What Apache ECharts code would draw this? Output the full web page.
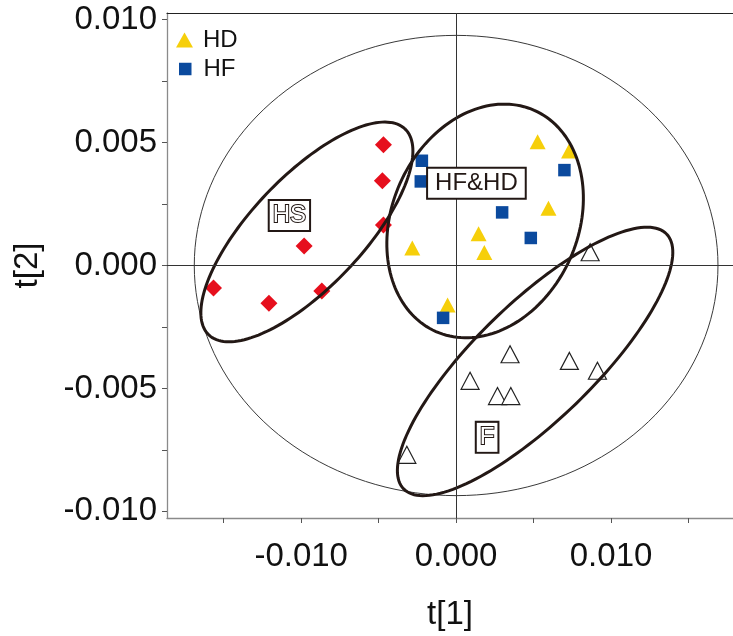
<!DOCTYPE html>
<html>
<head>
<meta charset="utf-8">
<script src="https://cdn.jsdelivr.net/npm/echarts@6/dist/echarts.min.js"></script>
<style>
  html, body { margin: 0; padding: 0; background: #ffffff; }
  #chart { width: 733px; height: 636px; }
</style>
</head>
<body>
<div id="chart"></div>
<script>
// ---------------- data ----------------
const hsX = [-0.00469, -0.00476, -0.00469, -0.00981, -0.01566, -0.01208, -0.00867];
const hsY = [0.00491, 0.00345, 0.00165, 0.00079, -0.00092, -0.00154, -0.00104];

const hdX = [0.00526, 0.00729, 0.00596, 0.00145, -0.00283, 0.00182, -0.00055];
const hdY = [0.00503, 0.00466, 0.00233, 0.00129, 0.00071, 0.00053, -0.00161];

const hfX = [-0.00221, -0.00228, 0.00699, 0.00297, 0.00482, -0.00084];
const hfY = [0.00426, 0.00342, 0.00388, 0.00216, 0.00112, -0.00213];

const fX = [0.00865, 0.00348, 0.00731, 0.00912, 0.00090, 0.00267, 0.00353, -0.00318];
const fY = [0.00054, -0.00361, -0.00388, -0.00428, -0.00469, -0.00531, -0.00531, -0.00770];

// group ellipses: centre and two conjugate semi-diameters, in data units
const groupNames = ['HS', 'HF&HD', 'F'];
const groupCenters = [[-0.009632, 0.001366], [0.001871, 0.001812], [0.005097, -0.003903]];
const groupAxisU = [[0.006329, 0.004191], [0.003173, 0.004499], [0.008484, 0.005184]];
const groupAxisV = [[-0.002602, 0.001551], [-0.005492, 0.001529], [-0.002649, 0.001712]];
const groupLabelPos = [[-0.01076, 0.00203], [0.00131, 0.00335], [0.00200, -0.00699]];

// Hotelling T2 ellipse
const t2Center = [0, 0];
const t2AxisU = [0.0169, 0];
const t2AxisV = [0, 0.00936];

// axes
const xRange = [-0.01866, 0.01787];
const yRange = [-0.01027, 0.01027];
const xTickValues = [-0.015, -0.010, -0.005, 0, 0.005, 0.010, 0.015];
const xLabelValues = [-0.010, 0, 0.010];
const yTickValues = [-0.010, -0.0075, -0.005, -0.0025, 0, 0.0025, 0.005, 0.0075, 0.010];
const yLabelValues = [-0.010, -0.005, 0, 0.005, 0.010];

// ---------------- chart ----------------
const FONT = "'Liberation Sans', Arial, sans-serif";
const STEPS = 160;
const zip = (xs, ys) => xs.map((x, i) => [x, ys[i]]);

function ellipseItem(c, u, v) { return [c[0], c[1], u[0], u[1], v[0], v[1]]; }

function renderEllipse(lineWidth, color) {
  return function (params, api) {
    const cx = api.value(0), cy = api.value(1);
    const ux = api.value(2), uy = api.value(3), vx = api.value(4), vy = api.value(5);
    const pts = [];
    for (let i = 0; i <= STEPS; i++) {
      const t = 2 * Math.PI * i / STEPS;
      pts.push(api.coord([cx + ux * Math.cos(t) + vx * Math.sin(t),
                          cy + uy * Math.cos(t) + vy * Math.sin(t)]));
    }
    return { type: 'polyline', shape: { points: pts }, style: { stroke: color, lineWidth: lineWidth, fill: null } };
  };
}

const chart = echarts.init(document.getElementById('chart'), null, { renderer: 'canvas' });

const fmt = v => v.toFixed(3);

const option = {
  backgroundColor: '#ffffff',
  animation: false,
  grid: { left: 167, right: 0, top: 13, bottom: 116 },
  legend: [
    {
      data: ['HD'], icon: 'triangle', orient: 'vertical', left: 176, top: 28, padding: 0,
      itemWidth: 17, itemHeight: 15, selectedMode: false,
      textStyle: { fontFamily: FONT, fontSize: 24, color: '#111', padding: [0, 0, 0, 5] }
    },
    {
      data: ['HF'], icon: 'rect', orient: 'vertical', left: 179, top: 57, padding: 0,
      itemWidth: 12.5, itemHeight: 12.5, selectedMode: false,
      textStyle: { fontFamily: FONT, fontSize: 24, color: '#111', padding: [0, 0, 0, 7] }
    }
  ],
  xAxis: [
    {
      type: 'value', min: xRange[0], max: xRange[1],
      name: 't[1]', nameLocation: 'middle', nameGap: 80,
      nameTextStyle: { fontFamily: FONT, fontSize: 33, color: '#111' },
      axisLine: { show: true, onZero: false, lineStyle: { color: '#8a8a8a', width: 1.3 } },
      axisTick: { show: true, inside: false, length: 5, customValues: xTickValues, lineStyle: { color: '#555' } },
      axisLabel: { customValues: xLabelValues, formatter: fmt, margin: 22, fontFamily: FONT, fontSize: 33, color: '#111' },
      splitLine: { show: false }
    },
    {
      type: 'value', position: 'top', min: xRange[0], max: xRange[1],
      axisLine: { show: true, onZero: false, lineStyle: { color: '#222', width: 1.2 } },
      axisTick: { show: false }, axisLabel: { show: false }, splitLine: { show: false }
    }
  ],
  yAxis: {
    type: 'value', min: yRange[0], max: yRange[1],
    name: 't[2]', nameLocation: 'middle', nameGap: 123,
    nameTextStyle: { fontFamily: FONT, fontSize: 33, color: '#111' },
    axisLine: { show: true, onZero: false, lineStyle: { color: '#8a8a8a', width: 1.3 } },
    axisTick: { show: true, inside: false, length: 5, customValues: yTickValues, lineStyle: { color: '#555' } },
    axisLabel: { customValues: yLabelValues, formatter: fmt, margin: 10, padding: [6, 0, 0, 0], fontFamily: FONT, fontSize: 33, color: '#111' },
    splitLine: { show: false }
  },
  series: [
    {
      name: 'T2', type: 'custom', silent: true, z: 1,
      renderItem: renderEllipse(1, '#3a3a3a'),
      data: [ellipseItem(t2Center, t2AxisU, t2AxisV)],
      markLine: {
        silent: true, symbol: ['none', 'none'], label: { show: false },
        lineStyle: { color: '#333', width: 1, type: 'solid' },
        data: [{ xAxis: 0 }, { yAxis: 0 }]
      }
    },
    {
      name: 'HS', type: 'scatter', symbol: 'diamond', symbolSize: 17, z: 3,
      itemStyle: { color: '#e60f1d', opacity: 1 },
      data: zip(hsX, hsY)
    },
    {
      name: 'HD', type: 'scatter', symbol: 'triangle', symbolSize: [16, 15], z: 3,
      itemStyle: { color: '#f6cf0a', opacity: 1 },
      data: zip(hdX, hdY)
    },
    {
      name: 'HF', type: 'scatter', symbol: 'rect', symbolSize: 12.5, z: 3,
      itemStyle: { color: '#0b4a9e', opacity: 1 },
      data: zip(hfX, hfY)
    },
    {
      name: 'F', type: 'scatter', symbol: 'triangle', symbolSize: [18, 17], z: 3,
      itemStyle: { color: '#ffffff', borderColor: '#222', borderWidth: 1.2, opacity: 1 },
      data: zip(fX, fY)
    },
    {
      name: 'groups', type: 'custom', silent: true, z: 4,
      renderItem: renderEllipse(3, '#231815'),
      data: groupNames.map((n, i) => ellipseItem(groupCenters[i], groupAxisU[i], groupAxisV[i]))
    },
    {
      name: 'groupLabels', type: 'scatter', symbolSize: 1, z: 5, silent: true,
      itemStyle: { color: 'rgba(0,0,0,0)', opacity: 1 },
      data: groupNames.map((n, i) => ({
        name: n, value: groupLabelPos[i],
        label: n === 'HF&HD'
          ? { padding: [3, 7, 2, 7] }
          : { color: '#ffffff', textBorderColor: '#231815', textBorderWidth: 2, padding: [3, 3, 2, 3] }
      })),
      label: {
        show: true, position: 'inside', formatter: p => p.name, opacity: 1,
        fontFamily: FONT, fontSize: 24, lineHeight: 24, color: '#231815',
        borderColor: '#231815', borderWidth: 2, backgroundColor: '#ffffff'
      }
    }
  ]
};

chart.setOption(option);
</script>
</body>
</html>
